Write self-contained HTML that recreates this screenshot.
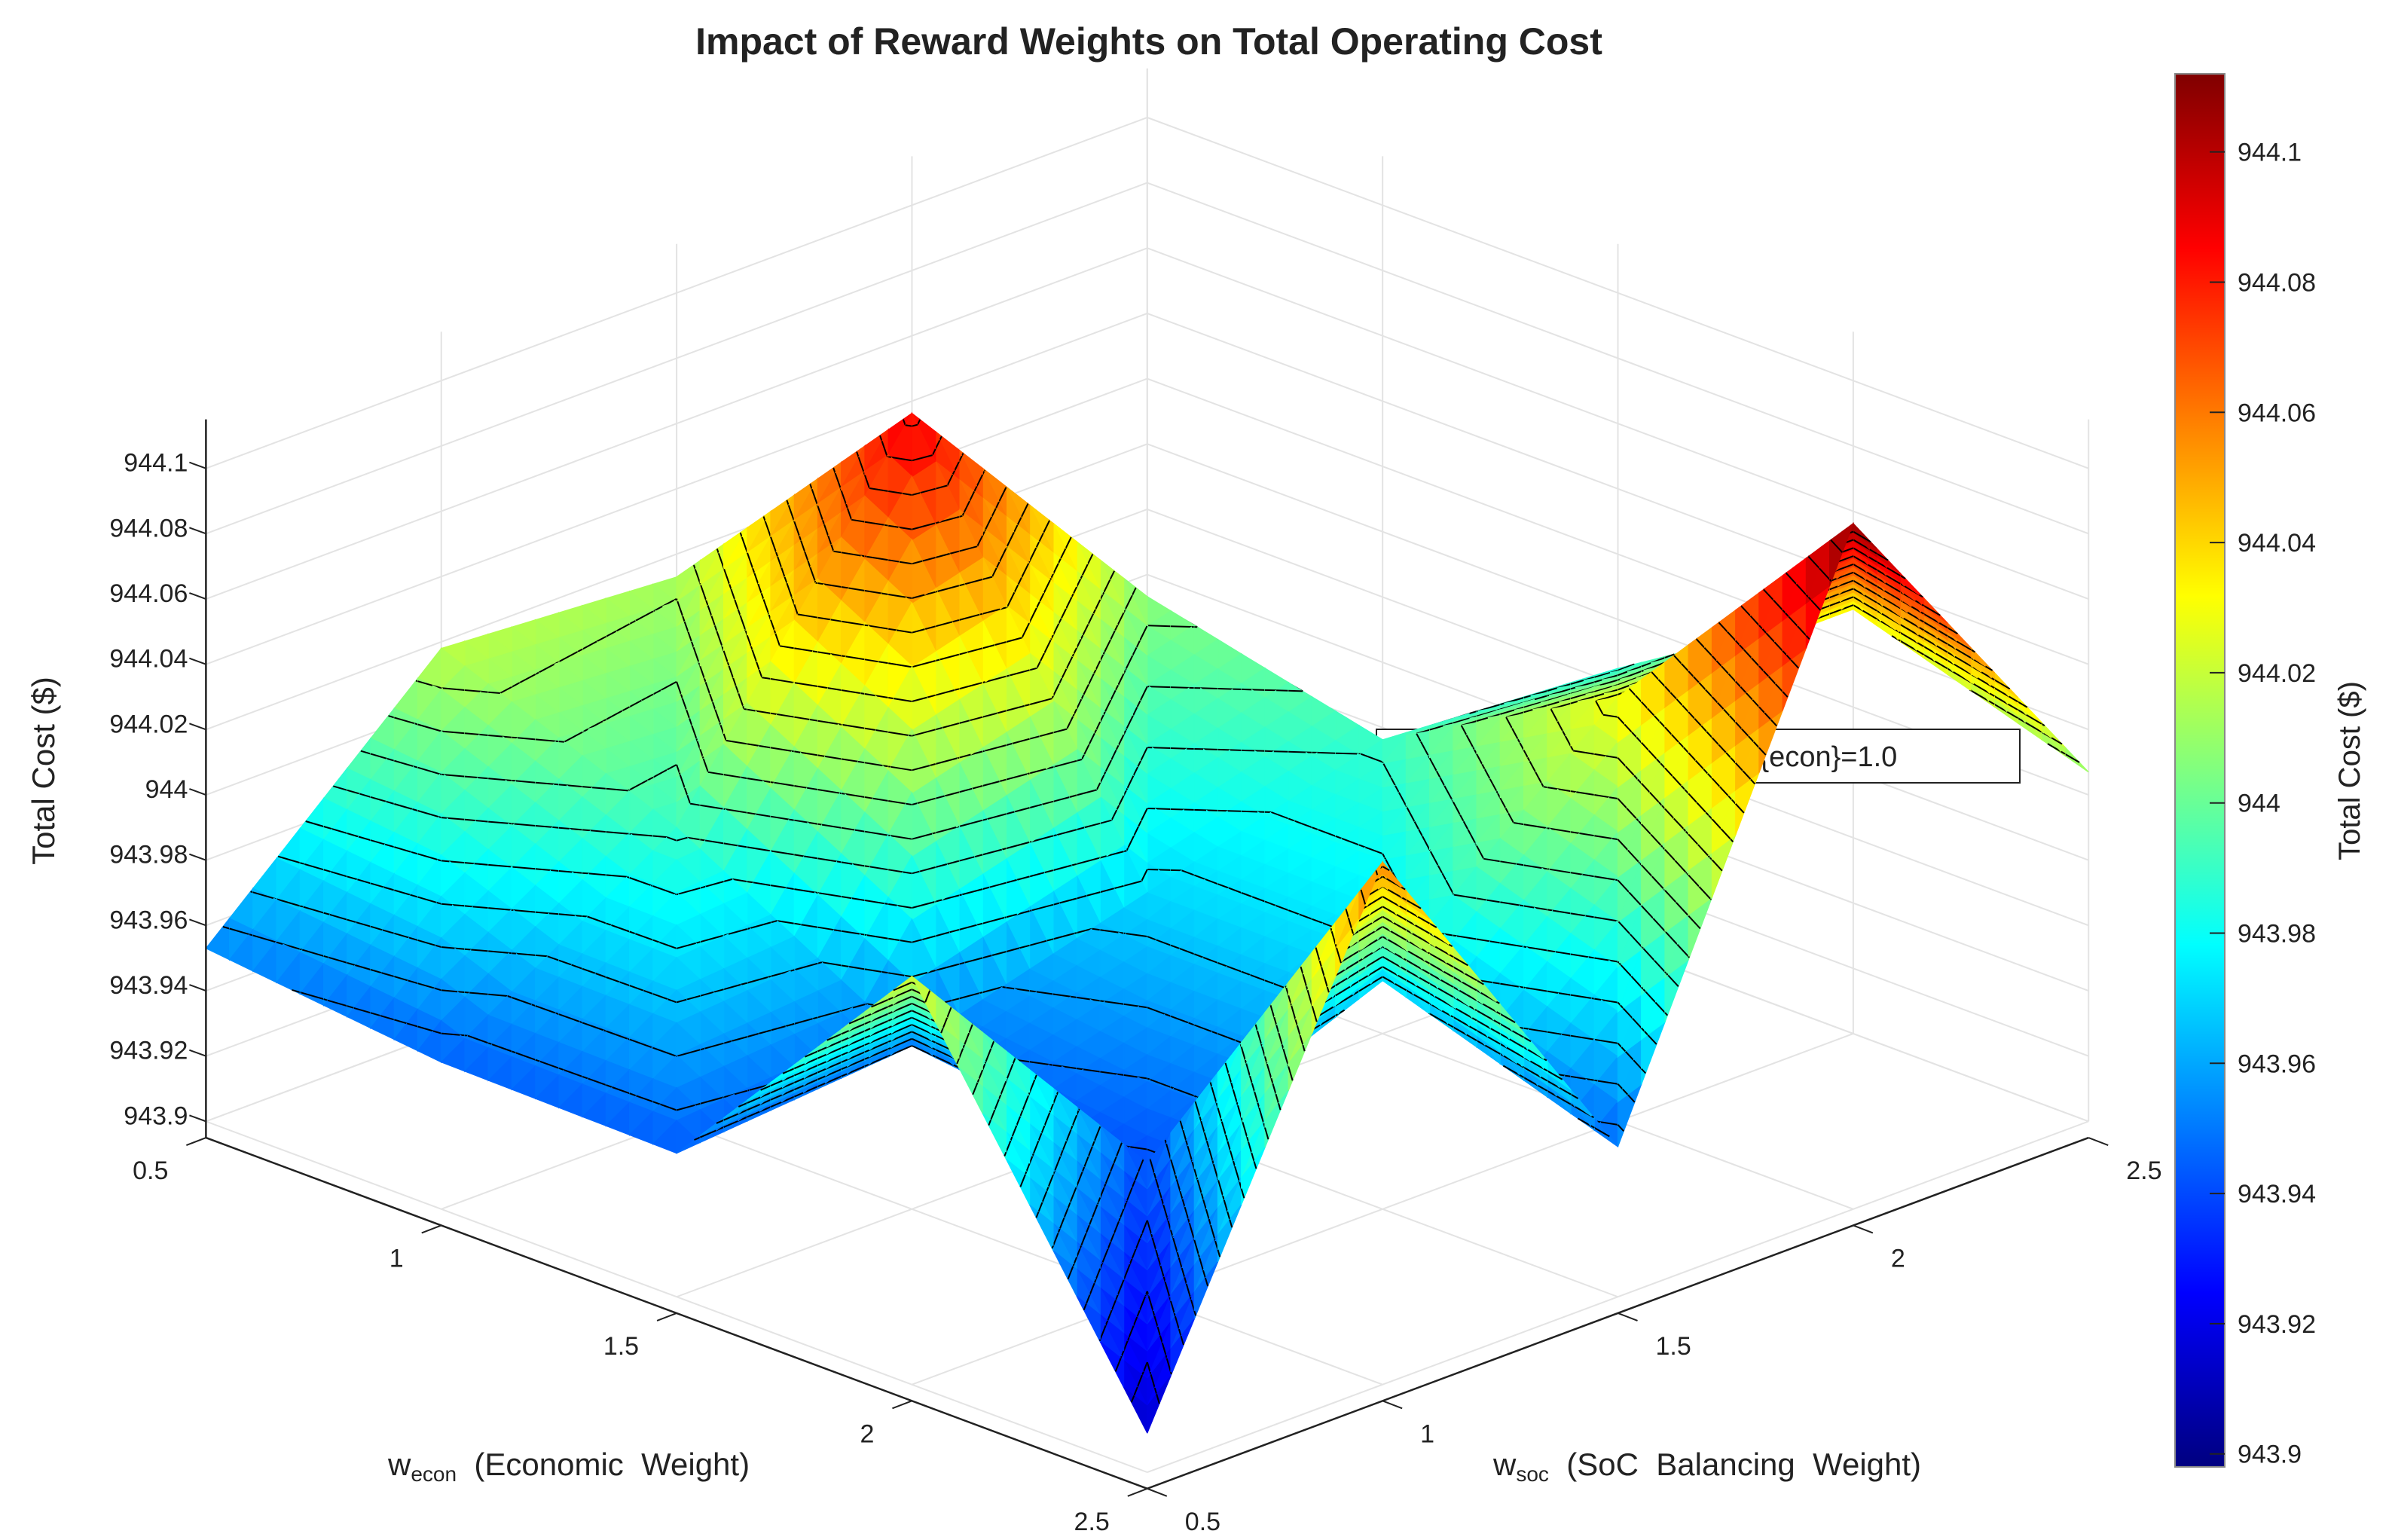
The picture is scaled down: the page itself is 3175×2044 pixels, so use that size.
<!DOCTYPE html>
<html><head><meta charset="utf-8"><style>
html,body{margin:0;padding:0;background:#fff;}
svg{display:block;font-family:"Liberation Sans",sans-serif;}
</style></head><body>
<svg id="chart" width="3175" height="2044" viewBox="0 0 3175 2044" xmlns="http://www.w3.org/2000/svg">
<text x="1525" y="72" font-size="50" font-weight="bold" text-anchor="middle" fill="#222">Impact of Reward Weights on Total Operating Cost</text>
<g id="walls"></g>
<g id="surf"></g>
<g id="axes"></g>
<text transform="translate(72,1023) rotate(-90)" font-size="42" text-anchor="middle" fill="#222">Total Cost ($)</text>
<text x="515" y="1958" font-size="42" fill="#222">w<tspan font-size="28" dy="8">econ</tspan><tspan dy="-8" xml:space="preserve">  (Economic  Weight)</tspan></text>
<text x="1982" y="1958" font-size="42" fill="#222">w<tspan font-size="28" dy="8">soc</tspan><tspan dy="-8" xml:space="preserve">  (SoC  Balancing  Weight)</tspan></text>
<defs><linearGradient id="jetg" x1="0" y1="1" x2="0" y2="0"></linearGradient></defs>
<g id="cbar"></g>
<text transform="translate(3132,1023) rotate(-90)" font-size="40" text-anchor="middle" fill="#222">Total Cost ($)</text>
</svg>
<script>
const econ=[0.5,1,1.5,2,2.5];
const soc=[0.5,1,1.5,2,2.5];
const costEcon05=[943.953,944.018,944.013,943.990,943.930];
const costEcon10=[943.945,943.990,944.090,944.007,943.925];
const costEcon15=[943.944,943.950,943.970,943.990,943.985];
const costEcon20=[944.025,943.941,943.970,944.030,944.030];
const costEcon25=[943.912,944.060,943.946,944.110,944.007];
const zTicks=[943.9,943.92,943.94,943.96,943.98,944,944.02,944.04,944.06,944.08,944.1];
const zTickLabels=["943.9","943.92","943.94","943.96","943.98","944","944.02","944.04","944.06","944.08","944.1"];
const econTicks=[0.5,1,1.5,2,2.5];
const socTicks=[0.5,1,1.5,2,2.5];
const annotationText="Min: 943.9\\n w_{soc}=2.5,  w_{econ}=1.0";
const Z=[costEcon05,costEcon10,costEcon15,costEcon20,costEcon25];
const NS="http://www.w3.org/2000/svg";
const S=2.025, ZMIN=943.9, ZTOP=944.115, CMIN=943.898, CMAX=944.112;
function proj(e,s,z){const a=(e-0.5)/2,b=(s-0.5)/2;return [S*(135+617*(a+b)),S*(735+230*(a-b)-(z-ZMIN)*2140)];}
function depth(e,s,z){const a=(e-0.5)/2,b=(s-0.5)/2;return 398*(a-b)+1236*(z-ZMIN);}
function jet(v){let t=(v-CMIN)/(CMAX-CMIN);t=Math.max(0,Math.min(1,t));
 const c=x=>Math.round(255*Math.max(0,Math.min(1,x)));
 return `rgb(${c(1.5-Math.abs(4*t-3))},${c(1.5-Math.abs(4*t-2))},${c(1.5-Math.abs(4*t-1))})`;}
function mk(tag,at,parent){const el=document.createElementNS(NS,tag);for(const k in at)el.setAttribute(k,at[k]);parent.appendChild(el);return el;}
const walls=document.getElementById('walls');
function line(p,q,col,w,parent,name){const el=mk('line',{x1:p[0],y1:p[1],x2:q[0],y2:q[1],stroke:col,'stroke-width':w},parent);

return el;}
const GC="#e3e3e3";
econTicks.forEach(e=>line(proj(e,0.5,ZMIN),proj(e,2.5,ZMIN),GC,2,walls,'floor-grid-line'));
socTicks.forEach(s=>line(proj(0.5,s,ZMIN),proj(2.5,s,ZMIN),GC,2,walls,'floor-grid-line'));
socTicks.forEach(s=>line(proj(0.5,s,ZMIN),proj(0.5,s,ZTOP),GC,2,walls,'wall-grid-line'));
zTicks.forEach(z=>line(proj(0.5,0.5,z),proj(0.5,2.5,z),GC,2,walls,'wall-grid-line'));
econTicks.forEach(e=>line(proj(e,2.5,ZMIN),proj(e,2.5,ZTOP),GC,2,walls,'wall-grid-line'));
zTicks.forEach(z=>line(proj(0.5,2.5,z),proj(2.5,2.5,z),GC,2,walls,'wall-grid-line'));
function hCell(i,j,e,s,lower){const u=(e-econ[i])/0.5, v=(s-soc[j])/0.5;
 const z00=Z[i][j],z10=Z[i+1][j],z01=Z[i][j+1],z11=Z[i+1][j+1];
 if(lower) return z00+u*(z10-z00)+v*(z01-z00);
 return z11+(1-u)*(z01-z11)+(1-v)*(z10-z11);}
const zmin=Math.min(...Z.flat()), zmax=Math.max(...Z.flat());
const levels=[];for(let k=1;k<26;k++)levels.push(zmin+(zmax-zmin)*k/26);
const tris=[];const N=10;
for(let i=0;i<4;i++)for(let j=0;j<4;j++)for(let p=0;p<N;p++)for(let q=0;q<N;q++){
 const e0=econ[i]+0.5*p/N,e1=econ[i]+0.5*(p+1)/N,s0=soc[j]+0.5*q/N,s1=soc[j]+0.5*(q+1)/N;
 const T1=[[e1,s0],[e0,s1],[e0,s0]], T2=[[e1,s0],[e1,s1],[e0,s1]];
 [T1,T2].forEach(T=>{
  const cu=((T[0][0]+T[1][0]+T[2][0])/3-econ[i])/0.5, cv=((T[0][1]+T[1][1]+T[2][1])/3-soc[j])/0.5;
  const lower=(cu+cv)<1;
  tris.push(T.map(v=>[v[0],v[1],hCell(i,j,v[0],v[1],lower)]));
 });
}
tris.forEach(t=>{t.d=(depth(...t[0])+depth(...t[1])+depth(...t[2]))/3;});
tris.sort((x,y)=>x.d-y.d);
const surf=document.getElementById('surf');
const boxDepth=depth(1.25,2.5,944.0);
let boxDrawn=false;
function drawBox(){
 const g=mk('g',{},surf);
 
 
 mk('rect',{x:1827,y:968,width:854,height:71,fill:'#fff',stroke:'#222','stroke-width':2},g);
 const t=mk('text',{x:1838,y:1017,'font-size':38,fill:'#222','xml:space':'preserve'},g);
 t.textContent=annotationText;boxDrawn=true;}
let buf='';
function flush(){if(buf){const g=mk('g',{},surf);g.innerHTML=buf;buf='';}}
tris.forEach(t=>{
 if(!boxDrawn&&t.d>boxDepth){flush();drawBox();}
 const P=t.map(v=>proj(...v));const col=jet((t[0][2]+t[1][2]+t[2][2])/3);
 buf+=`<polygon points="${P.map(p=>p[0].toFixed(1)+','+p[1].toFixed(1)).join(' ')}" fill="${col}" stroke="${col}" stroke-width="1.2"/>`;
 levels.forEach(L=>{const pts=[];for(let k=0;k<3;k++){const a=t[k],b=t[(k+1)%3];
  if((a[2]-L)*(b[2]-L)<0){const r=(L-a[2])/(b[2]-a[2]);pts.push(proj(a[0]+r*(b[0]-a[0]),a[1]+r*(b[1]-a[1]),L));}}
  if(pts.length===2)buf+=`<line x1="${pts[0][0].toFixed(1)}" y1="${pts[0][1].toFixed(1)}" x2="${pts[1][0].toFixed(1)}" y2="${pts[1][1].toFixed(1)}" stroke="#000" stroke-width="2"/>`;});
});
flush();if(!boxDrawn)drawBox();
const ax=document.getElementById('axes');
line(proj(0.5,0.5,ZMIN-0.005),proj(0.5,0.5,ZTOP),'#222',2.5,ax,'z-axis-line');
line(proj(0.5,0.5,ZMIN-0.005),proj(2.5,0.5,ZMIN-0.005),'#222',2.5,ax,'econ-axis-line');
line(proj(2.5,0.5,ZMIN-0.005),proj(2.5,2.5,ZMIN-0.005),'#222',2.5,ax,'soc-axis-line');
zTicks.forEach((z,k)=>{const p=proj(0.5,0.5,z);
 line(p,[p[0]-22,p[1]-8],'#222',2,ax,'z-tick');
 const t=mk('text',{x:p[0]-24,y:p[1]+4,'font-size':34,'text-anchor':'end',fill:'#222'},ax);
 
 
 t.textContent=zTickLabels[k];});
econTicks.forEach(e=>{const p=proj(e,0.5,ZMIN-0.005);
 line(p,[p[0]-26,p[1]+10],'#222',2,ax,'econ-tick');
 const t=mk('text',{x:p[0]-50,y:p[1]+55,'font-size':34,'text-anchor':'end',fill:'#222'},ax);
 
 
 t.textContent=String(e);});
socTicks.forEach(s=>{const p=proj(2.5,s,ZMIN-0.005);
 line(p,[p[0]+26,p[1]+10],'#222',2,ax,'soc-tick');
 const t=mk('text',{x:p[0]+50,y:p[1]+55,'font-size':34,'text-anchor':'start',fill:'#222'},ax);
 
 
 t.textContent=String(s);});
const gr=document.getElementById('jetg');
for(let k=0;k<=32;k++){mk('stop',{offset:(k/32),'stop-color':jet(CMIN+(CMAX-CMIN)*k/32)},gr);}
const cb=document.getElementById('cbar');
const CBT=98,CBB=1947,CBX=2887,CBW=66;
const r=mk('rect',{x:CBX,y:CBT,width:CBW,height:CBB-CBT,fill:'url(#jetg)',stroke:'#888','stroke-width':2},cb);


const cy=v=>CBB-(v-CMIN)/(CMAX-CMIN)*(CBB-CBT);
zTicks.forEach((z,k)=>{const y=cy(z);
 line([CBX+CBW-20,y],[CBX+CBW,y],'#222',2,cb,'colorbar-tick');
 const t=mk('text',{x:2970,y:y+12,'font-size':34,fill:'#222'},cb);
 
 
 t.textContent=zTickLabels[k];});
</script>
</body></html>
